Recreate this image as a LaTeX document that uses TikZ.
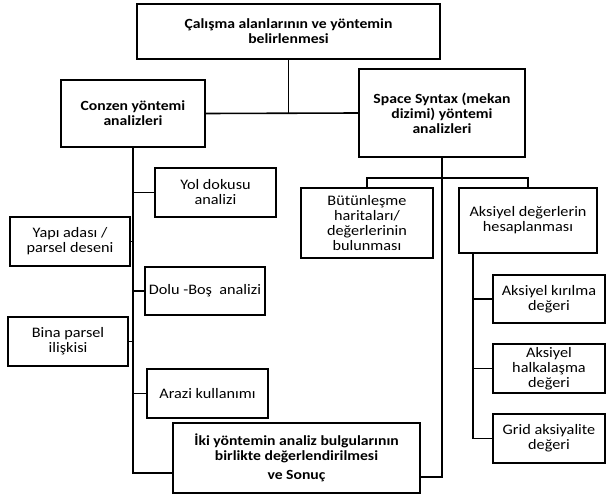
\documentclass[tikz,border=0pt]{standalone}
\usepackage{fontspec}
\setmainfont{Carlito}[FakeStretch=1.12]
\usepackage{tikz}
\usetikzlibrary{calc}

\tikzset{
  box/.style={draw, line width=1.6pt, align=center, inner sep=1pt, outer sep=0pt,
    font=\fontsize{14.5}{15}\selectfont},
  boldbox/.style={box, font=\fontsize{14}{15}\selectfont\bfseries},
  link/.style={line width=1.6pt}
}

\begin{document}
\begin{tikzpicture}[x=1pt,y=-1pt]
  \useasboundingbox (0,0) rectangle (606,495);
  % Study tree
  \node[boldbox, minimum width=303pt, minimum height=55pt] (calisma) at (288.5,31.5)
    {Çalışma alanlarının ve yöntemin\\ belirlenmesi};
  \node[boldbox, minimum width=144pt, minimum height=67pt] (conzen) at (133,113.5)
    {Conzen yöntemi\\ analizleri};
  \node[boldbox, minimum width=166pt, minimum height=88pt] (syntax) at (442,113)
    {Space Syntax (mekan\\ dizimi) yöntemi\\ analizleri};
  \node[box, minimum width=121pt, minimum height=49pt] (yol) at (215.5,192.5)
    {Yol dokusu\\ analizi};
  \node[box, minimum width=120pt, minimum height=49pt] (yapi) at (70,241.5)
    {Yapı adası /\\ parsel deseni};
  \node[box, minimum width=120pt, minimum height=48pt] (dolu) at (205,291)
    {Dolu -Boş~ analizi};
  \node[box, minimum width=120pt, minimum height=49pt] (bina) at (68,341.5)
    {Bina parsel\\ ilişkisi};
  \node[box, minimum width=121pt, minimum height=49pt] (arazi) at (207.5,393.5)
    {Arazi kullanımı};
  \node[boldbox, minimum width=247pt, minimum height=70pt] (sonuc) at (296.5,458)
    {İki yöntemin analiz bulgularının\\ birlikte değerlendirilmesi\\[4pt] ve Sonuç};
  \node[box, minimum width=132pt, minimum height=70pt] (butun) at (367,223)
    {Bütünleşme\\ haritaları/\\ değerlerinin\\ bulunması};
  \node[box, minimum width=138pt, minimum height=65pt] (aksiyel) at (528,220.5)
    {Aksiyel değerlerin\\ hesaplanması};
  \node[box, minimum width=112pt, minimum height=48pt] (kirilma) at (549,299)
    {Aksiyel kırılma\\ değeri};
  \node[box, minimum width=112pt, minimum height=49pt] (halka) at (549,368.5)
    {Aksiyel\\ halkalaşma\\ değeri};
  \node[box, minimum width=112pt, minimum height=49pt] (grid) at (549,438.5)
    {Grid aksiyalite\\ değeri};
  \coordinate (akstrunk) at ([xshift=14pt]aksiyel.south west);

  \draw[link] (calisma.south) -- (calisma.south |- conzen.east);
  \draw[link] (conzen.east) -- (syntax.west);
  \draw[link] (conzen.south) |- ([yshift=-15pt]sonuc.west);
  \draw[link] (yol.west)   -- (yol.west -| conzen.south);
  \draw[link] (yapi.east)  -- (yapi.east -| conzen.south);
  \draw[link] (dolu.west)  -- (dolu.west -| conzen.south);
  \draw[link] (bina.east)  -- (bina.east -| conzen.south);
  \draw[link] (arazi.west) -- (arazi.west -| conzen.south);
  \draw[link] (syntax.south) |- ([yshift=-19pt]sonuc.east);
  \draw[link] (butun.north) -- ++(0,-10) -| (aksiyel.north);
  \draw[link] (akstrunk) |- (grid.west);
  \draw[link] (kirilma.west) -- (kirilma.west -| akstrunk);
  \draw[link] (halka.west)   -- (halka.west -| akstrunk);
\end{tikzpicture}
\end{document}
